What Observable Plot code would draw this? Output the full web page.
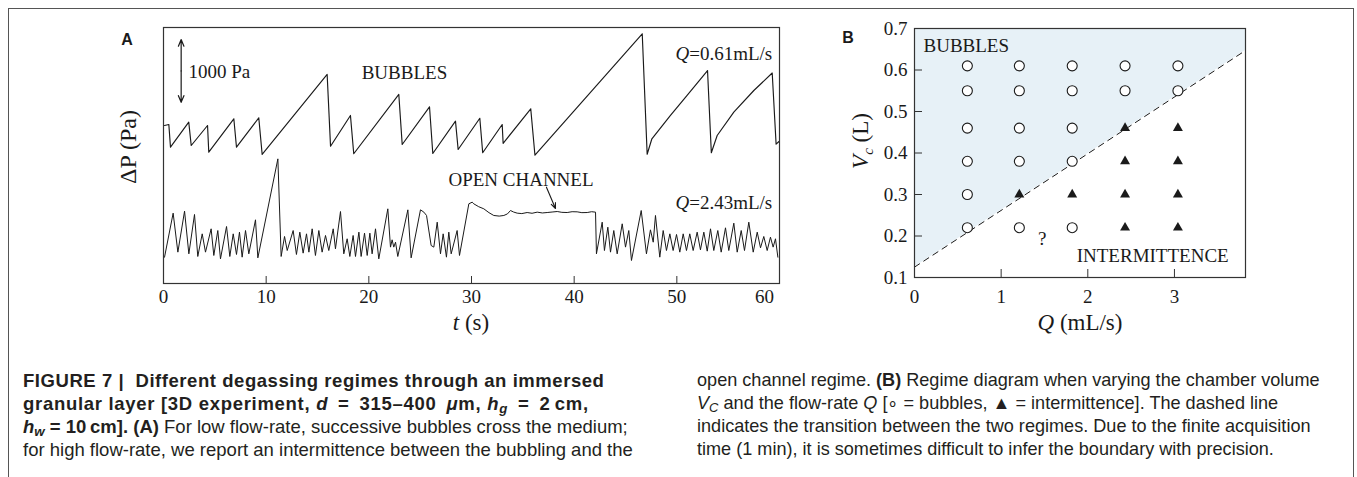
<!DOCTYPE html>
<html><head><meta charset="utf-8">
<script src="https://cdn.jsdelivr.net/npm/d3@7"></script>
<script src="https://cdn.jsdelivr.net/npm/@observablehq/plot@0.6"></script>
<style>
body{margin:0;background:#fff;}
#fig{position:relative;width:1357px;height:477px;overflow:hidden;background:#fff;}
.border{position:absolute;left:8px;top:8px;width:1344px;height:500px;border:1.5px solid #555;border-bottom:none;}
.panel{position:absolute;top:0;}
.cap{position:absolute;font-family:"Liberation Sans",Arial,sans-serif;font-size:18.5px;line-height:23px;color:#231f20;white-space:nowrap;}
.cap sub{font-size:0.72em;line-height:0;position:relative;top:0.25em;vertical-align:baseline;}
.cap .bl1{letter-spacing:0.55px;}
.cap .bl2{letter-spacing:0.7px;}
</style></head><body>
<div id="fig">
  <div class="border"></div>
  <div id="panelA" class="panel" style="left:0px"></div>
  <div id="panelB" class="panel" style="left:820px"></div>
  <div class="cap" style="left:23px;top:369px">
    <div><b class="bl1">FIGURE 7 |&nbsp; Different degassing regimes through an immersed</b></div>
    <div><b class="bl2">granular layer [3D experiment, <i>d</i>&ensp;=&ensp;315–400&ensp;<i>μ</i>m, <i>h<sub>g</sub></i>&ensp;=&ensp;2&thinsp;cm,</b></div>
    <div><b><i>h<sub>w</sub></i> = 10&thinsp;cm]. (A)</b> For low flow-rate, successive bubbles cross the medium;</div>
    <div>for high flow-rate, we report an intermittence between the bubbling and the</div>
  </div>
  <div class="cap" style="left:697px;top:369px;font-size:18.1px">
    <div>open channel regime. <b>(B)</b> Regime diagram when varying the chamber volume</div>
    <div><i>V<sub>C</sub></i> and the flow-rate <i>Q</i> [∘ = bubbles, ▲ = intermittence]. The dashed line</div>
    <div>indicates the transition between the two regimes. Due to the finite acquisition</div>
    <div>time (1 min), it is sometimes difficult to infer the boundary with precision.</div>
  </div>
</div>
<script>
// ---------- Panel A data: pressure traces (t in s, ΔP in Pa, arbitrary offset) ----------
const topT = [0.10, 0.52, 0.68, 2.46, 2.70, 4.29, 4.41, 6.85, 7.11, 9.28, 9.61, 15.94, 16.27, 18.21, 18.53, 22.92, 23.25, 25.91, 26.23, 28.44, 28.70, 30.81, 31.09, 32.99, 33.08, 35.77, 36.18, 46.63, 47.11, 47.57, 49.38, 51.00, 52.99, 53.36, 53.93, 55.55, 57.50, 59.29, 59.67, 59.95];
const topP = [2520, 2536, 2174, 2573, 2201, 2520, 2094, 2627, 2174, 2643, 2058, 3334, 2190, 2680, 2069, 3015, 2217, 2818, 2074, 2589, 2137, 2635, 2086, 2536, 2236, 2786, 2046, 3983, 2062, 2308, 2680, 2999, 3397, 2086, 2361, 2732, 3078, 3357, 2222, 2265];

const bottomT = [0.10, 0.94, 1.40, 2.05, 2.47, 3.02, 3.34, 3.77, 4.09, 4.64, 4.90, 5.29, 5.55, 6.14, 6.46, 6.79, 7.11, 7.40, 7.66, 7.99, 8.31, 8.96, 9.19, 11.14, 11.46, 11.79, 12.05, 12.63, 12.95, 13.28, 13.60, 13.93, 14.16, 14.48, 14.80, 15.13, 15.45, 15.78, 16.10, 16.53, 16.75, 17.24, 17.56, 17.89, 18.15, 18.47, 18.70, 19.03, 19.25, 19.58, 19.84, 20.10, 20.32, 20.65, 20.97, 21.85, 22.11, 22.27, 22.43, 22.60, 22.82, 23.80, 24.12, 25.03, 25.36, 25.62, 26.07, 26.33, 26.66, 26.98, 27.24, 27.56, 27.79, 28.02, 28.60, 28.83, 29.74, 30.07, 30.22, 30.70, 31.20, 31.70, 32.17, 32.70, 33.15, 33.50, 33.80, 34.10, 34.45, 34.90, 35.42, 35.90, 36.40, 36.90, 37.37, 37.85, 38.35, 38.80, 39.32, 39.80, 40.29, 40.75, 41.27, 41.70, 42.08, 42.17, 42.73, 42.95, 43.28, 43.54, 43.86, 44.19, 44.68, 45.00, 45.32, 45.58, 46.53, 47.04, 47.43, 47.70, 47.92, 48.34, 48.67, 48.99, 49.32, 49.64, 49.97, 50.29, 50.62, 50.94, 51.26, 51.59, 51.98, 52.30, 52.63, 52.96, 53.28, 53.60, 53.99, 54.32, 54.74, 55.06, 55.55, 55.88, 56.27, 56.59, 57.01, 57.44, 57.83, 58.15, 58.47, 58.80, 59.12, 59.38, 59.61, 59.84];
const bottomP = [420, 1122, 500, 1154, 473, 1101, 431, 792, 500, 872, 447, 845, 393, 909, 431, 792, 463, 819, 420, 845, 473, 1016, 409, 1988, 431, 750, 526, 845, 463, 819, 484, 792, 500, 872, 447, 845, 500, 766, 526, 872, 553, 1148, 473, 713, 431, 766, 431, 819, 431, 803, 447, 803, 473, 872, 393, 1191, 580, 697, 580, 659, 431, 1175, 409, 1175, 1138, 1085, 606, 580, 978, 473, 792, 420, 819, 473, 845, 447, 1271, 1297, 1271, 1225, 1191, 1130, 1085, 1075, 1085, 1110, 1164, 1140, 1122, 1115, 1132, 1120, 1138, 1125, 1132, 1140, 1148, 1135, 1132, 1145, 1143, 1130, 1132, 1145, 1138, 473, 978, 526, 898, 500, 845, 473, 952, 580, 845, 367, 1164, 473, 856, 659, 1085, 420, 845, 526, 792, 526, 782, 500, 792, 526, 792, 526, 819, 537, 819, 516, 872, 526, 845, 500, 888, 526, 962, 500, 845, 526, 978, 500, 819, 569, 750, 526, 739, 580, 713, 420];

const timeTicks = [0, 10, 20, 30, 40, 50, 60];
const scaleBarT = 1.72;
const scaleBarP = [2890, 3890];          // 1000 Pa
const openArrowT = [37.30, 38.18];
const openArrowP = [1536, 1196];

const labelsA = [
  {t: 2.43, p: 3370, text: "1000 Pa", anchor: "start"},
  {t: 23.47, p: 3354, text: "BUBBLES", anchor: "middle"},
  {t: 59.29, p: 3669, text: "Q=0.61mL/s", anchor: "end"},
  {t: 34.82, p: 1659, text: "OPEN CHANNEL", anchor: "middle"},
  {t: 59.29, p: 1281, text: "Q=2.43mL/s", anchor: "end"}
];

// ---------- Panel B data: regime diagram ----------
const bubblesQ = [0.61,0.61,0.61,0.61,0.61,0.61, 1.21,1.21,1.21,1.21,1.21, 1.82,1.82,1.82,1.82,1.82, 2.43,2.43, 3.04,3.04];
const bubblesV = [0.61,0.55,0.46,0.38,0.30,0.22, 0.61,0.55,0.46,0.38,0.22, 0.61,0.55,0.46,0.38,0.22, 0.61,0.55, 0.61,0.55];
const interQ = [1.21, 1.82, 2.43,2.43,2.43,2.43, 3.04,3.04,3.04,3.04];
const interV = [0.30, 0.30, 0.46,0.38,0.30,0.22, 0.46,0.38,0.30,0.22];
const boundaryQ = [0, 3.82];
const boundaryV = [0.125, 0.647];
const qTicks = [0, 1, 2, 3];
const vTicks = [0.1, 0.2, 0.3, 0.4, 0.5, 0.6, 0.7];
const labelsB = [
  {q: 0.104, v: 0.657, text: "BUBBLES", anchor: "start"},
  {q: 3.626, v: 0.151, text: "INTERMITTENCE", anchor: "end"},
  {q: 1.474, v: 0.194, text: "?", anchor: "middle"}
];

const SERIF = "Liberation Serif, Times New Roman, serif";
const INK = "#1a1a1a";

function italicizeQ(svg) {
  svg.querySelectorAll("text").forEach(t => {
    const s = t.textContent;
    if (s.startsWith("Q=")) {
      t.textContent = "";
      d3.select(t).append("tspan").attr("font-style", "italic").text("Q");
      d3.select(t).append("tspan").text(s.slice(1));
    }
  });
}

// ---------- Panel A ----------
const topData = topT.map((t, i) => ({t, p: topP[i]}));
const botData = bottomT.map((t, i) => ({t, p: bottomP[i]}));

const plotA = Plot.plot({
  width: 800, height: 340,
  marginLeft: 163, marginRight: 21, marginTop: 27, marginBottom: 57,
  x: {domain: [0, 60], label: null},
  y: {domain: [0, 4083], axis: null, label: null},
  style: {fontFamily: SERIF, fontSize: "19px", color: INK, background: "transparent", overflow: "visible"},
  marks: [
    Plot.line(topData, {x: "t", y: "p", stroke: INK, strokeWidth: 1.15}),
    Plot.line(botData, {x: "t", y: "p", stroke: INK, strokeWidth: 1.0}),
    Plot.frame({stroke: "#333", strokeWidth: 1.2}),
    Plot.axisX({ticks: timeTicks, tickSize: 7, dy: -7, tickFormat: () => "", stroke: "#333"}),
    Plot.axisX({ticks: timeTicks.slice(0, -1), tickSize: 0, tickPadding: 6, fontSize: 19, fill: INK}),
    Plot.axisX({ticks: timeTicks.slice(-1), tickSize: 0, tickPadding: 6, dx: -15, fontSize: 19, fill: INK}),
    Plot.arrow([0], {x1: () => scaleBarT, x2: () => scaleBarT, y1: () => (scaleBarP[0] + scaleBarP[1]) / 2, y2: () => scaleBarP[1], stroke: INK, strokeWidth: 1.2, headLength: 9, headAngle: 45}),
    Plot.arrow([0], {x1: () => scaleBarT, x2: () => scaleBarT, y1: () => (scaleBarP[0] + scaleBarP[1]) / 2, y2: () => scaleBarP[0], stroke: INK, strokeWidth: 1.2, headLength: 9, headAngle: 45}),
    Plot.arrow([0], {x1: () => openArrowT[0], x2: () => openArrowT[1], y1: () => openArrowP[0], y2: () => openArrowP[1], stroke: INK, strokeWidth: 1.1, headLength: 8, headAngle: 45}),
    Plot.text(labelsA, {x: "t", y: "p", text: "text", fontSize: 19, fill: INK})
  ]
});
d3.select(plotA).selectAll("text").each(function() {
  const s = this.textContent;
  const lab = labelsA.find(l => l.text === s);
  if (lab) d3.select(this).attr("text-anchor", lab.anchor);
});
italicizeQ(plotA);
{
  const g = d3.select(plotA);
  g.append("text").attr("x", 127).attr("y", 39).attr("text-anchor", "middle").attr("dy", "0.35em")
    .attr("font-family", "Liberation Sans, Arial, sans-serif").attr("font-weight", "bold").attr("font-size", 16).attr("fill", INK).text("A");
  g.append("text").attr("transform", "translate(136,147) rotate(-90)").attr("text-anchor", "middle")
    .attr("font-family", SERIF).attr("font-size", 24).attr("fill", INK).text("ΔP (Pa)");
  const xl = g.append("text").attr("x", 471).attr("y", 330).attr("text-anchor", "middle")
    .attr("font-family", SERIF).attr("font-size", 23).attr("fill", INK);
  xl.append("tspan").attr("font-style", "italic").text("t");
  xl.append("tspan").text(" (s)");
}
document.getElementById("panelA").appendChild(plotA);

// ---------- Panel B ----------
const bubbles = bubblesQ.map((q, i) => ({q, v: bubblesV[i]}));
const inter = interQ.map((q, i) => ({q, v: interV[i]}));
const boundary = boundaryQ.map((q, i) => ({q, v: boundaryV[i]}));

const plotB = Plot.plot({
  width: 537, height: 340,
  marginLeft: 94, marginRight: 112, marginTop: 28, marginBottom: 63,
  x: {domain: [0, 3.82], label: null},
  y: {domain: [0.1, 0.7], label: null},
  style: {fontFamily: SERIF, fontSize: "19px", color: INK, background: "transparent", overflow: "visible"},
  marks: [
    Plot.areaY(boundary, {x: "q", y1: "v", y2: () => 0.7, fill: "#e7f1f7"}),
    Plot.line(boundary, {x: "q", y: "v", stroke: INK, strokeWidth: 1, strokeDasharray: "6,5"}),
    Plot.frame({stroke: "#333", strokeWidth: 1.2}),
    Plot.axisX({ticks: qTicks, tickSize: 8, dy: -8, tickFormat: () => "", stroke: "#333"}),
    Plot.axisX({ticks: qTicks, tickSize: 0, tickPadding: 12, fontSize: 19, fill: INK, tickFormat: d3.format("d")}),
    Plot.axisY({ticks: vTicks, tickSize: 8, dx: 8, tickFormat: () => "", stroke: "#333"}),
    Plot.axisY({ticks: vTicks, tickSize: 0, tickPadding: 7, fontSize: 19, fill: INK, tickFormat: d3.format(".1f")}),
    Plot.dot(bubbles, {x: "q", y: "v", r: 5, stroke: INK, fill: "white", strokeWidth: 1.1}),
    Plot.dot(inter, {x: "q", y: "v", symbol: "triangle", r: 3.7, fill: INK, stroke: "none"}),
    Plot.text(labelsB, {x: "q", y: "v", text: "text", fontSize: 19, fill: INK})
  ]
});
d3.select(plotB).selectAll("text").each(function() {
  const s = this.textContent;
  const lab = labelsB.find(l => l.text === s);
  if (lab) d3.select(this).attr("text-anchor", lab.anchor);
});
{
  const g = d3.select(plotB);
  g.append("text").attr("x", 28).attr("y", 37).attr("text-anchor", "middle").attr("dy", "0.35em")
    .attr("font-family", "Liberation Sans, Arial, sans-serif").attr("font-weight", "bold").attr("font-size", 16).attr("fill", INK).text("B");
  const yl = g.append("text").attr("transform", "translate(48,141) rotate(-90)").attr("text-anchor", "middle")
    .attr("font-family", SERIF).attr("font-size", 23).attr("fill", INK);
  yl.append("tspan").attr("font-style", "italic").text("V");
  yl.append("tspan").attr("font-style", "italic").attr("font-size", 15).attr("dy", 5).text("c");
  yl.append("tspan").attr("dy", -5).text(" (L)");
  const xl = g.append("text").attr("x", 260).attr("y", 330).attr("text-anchor", "middle")
    .attr("font-family", SERIF).attr("font-size", 23).attr("fill", INK);
  xl.append("tspan").attr("font-style", "italic").text("Q");
  xl.append("tspan").text(" (mL/s)");
}
document.getElementById("panelB").appendChild(plotB);
</script>
</body></html>
